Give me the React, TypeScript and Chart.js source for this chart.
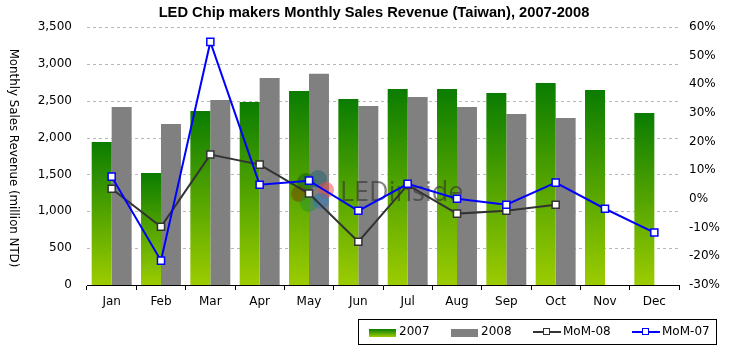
import React, { useEffect, useRef } from 'react';
import { Chart, registerables } from 'chart.js';

Chart.register(...registerables);

const months = ['Jan', 'Feb', 'Mar', 'Apr', 'May', 'Jun', 'Jul', 'Aug', 'Sep', 'Oct', 'Nov', 'Dec'];
const sales2007 = [1940, 1520, 2360, 2483, 2632, 2523, 2659, 2659, 2605, 2740, 2645, 2333];
const sales2008 = [2415, 2184, 2510, 2808, 2866, 2428, 2550, 2415, 2320, 2265, null, null];
const mom08 = [3.6, -9.7, 15.5, 12.0, 1.9, -14.9, 4.9, -5.1, -4.1, -2.0, null, null];
const mom07 = [7.8, -21.5, 54.8, 5.0, 6.4, -4.1, 5.3, 0.1, -2.0, 5.7, -3.4, -11.7];
const leftTicks = { min: 0, max: 3500, step: 500 };
const rightTicks = { min: -30, max: 60, step: 10 };

const TITLE = 'LED Chip makers Monthly Sales Revenue (Taiwan), 2007-2008';
const Y_TITLE = 'Monthly Sales Revenue (million NTD)';
const FONT = '"DejaVu Sans", sans-serif';

const GREEN_TOP = '#0a7c00';
const GREEN_BOTTOM = '#9ccc00';

const decorPlugin = {
  id: 'decor',
  beforeDraw(chart: any) {
    const c = chart.ctx;
    c.save();
    c.fillStyle = '#ffffff';
    c.fillRect(0, 0, chart.width, chart.height);
    c.fillStyle = '#000';
    c.font = 'bold 14.7px "Liberation Sans", Arial, sans-serif';
    c.textAlign = 'center';
    c.textBaseline = 'middle';
    c.fillText(TITLE, 374, 13);
    c.translate(13, 158);
    c.rotate(Math.PI / 2);
    c.font = '11.8px ' + FONT;
    c.fillText(Y_TITLE, 0, 0);
    c.restore();
  },
  beforeDatasetsDraw(chart: any) {
    const c = chart.ctx;
    const y = chart.scales.y;
    const area = chart.chartArea;
    c.save();
    c.strokeStyle = '#b8b8b8';
    c.lineWidth = 1;
    c.setLineDash([3, 3]);
    for (const t of y.ticks) {
      if (t.value === 0) continue;
      const py = Math.round(y.getPixelForValue(t.value)) + 0.5;
      c.beginPath();
      c.moveTo(area.left, py);
      c.lineTo(area.right, py);
      c.stroke();
    }
    c.restore();
  },
  afterDatasetDraw(chart: any, args: any) {
    if (args.index !== 0) return;
    const c = chart.ctx;
    c.save();
    const circles = [
      [306, 182, 9, 'rgba(20,90,20,0.5)'],
      [318, 179, 9, 'rgba(30,100,110,0.5)'],
      [326, 190, 8, 'rgba(235,70,70,0.5)'],
      [299, 194, 8, 'rgba(120,70,0,0.55)'],
      [309, 203, 9, 'rgba(40,150,40,0.5)'],
      [321, 201, 8, 'rgba(40,120,190,0.5)'],
    ];
    for (const [x, y, r, col] of circles as any) {
      c.beginPath();
      c.arc(x, y, r, 0, Math.PI * 2);
      c.fillStyle = col;
      c.fill();
    }
    c.font = '27px "Open Sans", sans-serif';
    c.fillStyle = 'rgba(50,50,50,0.6)';
    c.textAlign = 'left';
    c.textBaseline = 'middle';
    c.fillText('LEDinside', 340, 193);
    c.restore();
  },
};

function barGradient(context: any) {
  const chart = context.chart;
  const scales = chart.scales;
  if (!scales || !scales.y || context.type !== 'data' || context.raw == null) return GREEN_TOP;
  const top = scales.y.getPixelForValue(context.raw);
  const base = scales.y.getPixelForValue(0);
  if (!isFinite(top) || !isFinite(base) || top === base) return GREEN_TOP;
  const g = chart.ctx.createLinearGradient(0, top, 0, base);
  g.addColorStop(0, GREEN_TOP);
  g.addColorStop(1, GREEN_BOTTOM);
  return g;
}

function Legend() {
  const txt: React.CSSProperties = {
    position: 'absolute',
    top: 318,
    fontFamily: FONT,
    fontSize: 12,
    lineHeight: '27px',
    color: '#000',
  };
  const line = (left: number, color: string, width: number) => (
    <div style={{ position: 'absolute', left, top: 332, width: 28, height: 0 }}>
      <div style={{ position: 'absolute', left: 0, top: -1, width: 28, height: width, background: color }} />
      <div
        style={{
          position: 'absolute',
          left: 10,
          top: -4,
          width: 5,
          height: 5,
          background: '#fff',
          border: '1px solid ' + color,
        }}
      />
    </div>
  );
  return (
    <>
      <div
        style={{
          position: 'absolute',
          left: 358,
          top: 319,
          width: 359,
          height: 26,
          border: '1px solid #000',
          boxSizing: 'border-box',
        }}
      />
      <div
        style={{
          position: 'absolute',
          left: 369,
          top: 329,
          width: 27,
          height: 8,
          background: `linear-gradient(${GREEN_TOP}, ${GREEN_BOTTOM})`,
        }}
      />
      <span style={{ ...txt, left: 399 }}>2007</span>
      <div style={{ position: 'absolute', left: 451, top: 329, width: 27, height: 8, background: '#808080' }} />
      <span style={{ ...txt, left: 481 }}>2008</span>
      {line(533, '#333333', 2)}
      <span style={{ ...txt, left: 563 }}>MoM-08</span>
      {line(632, '#0000ff', 2)}
      <span style={{ ...txt, left: 662 }}>MoM-07</span>
    </>
  );
}

export default function App() {
  const canvasRef = useRef<HTMLCanvasElement>(null);

  useEffect(() => {
    if (!canvasRef.current) return;
    const chart = new Chart(canvasRef.current, {
      type: 'bar',
      data: {
        labels: months,
        datasets: [
          {
            type: 'bar',
            label: '2007',
            data: sales2007,
            backgroundColor: barGradient,
            yAxisID: 'y',
            order: 2,
            categoryPercentage: 0.81,
            barPercentage: 1,
          },
          {
            type: 'bar',
            label: '2008',
            data: sales2008,
            backgroundColor: '#808080',
            yAxisID: 'y',
            order: 2,
            categoryPercentage: 0.81,
            barPercentage: 1,
          },
          {
            type: 'line',
            label: 'MoM-08',
            data: mom08,
            yAxisID: 'y1',
            borderColor: '#333333',
            borderWidth: 2,
            tension: 0,
            pointStyle: 'rect',
            pointRadius: 5,
            pointBorderWidth: 1.5,
            pointBackgroundColor: '#ffffff',
            pointBorderColor: '#333333',
            order: 1,
            spanGaps: false,
            clip: false,
          },
          {
            type: 'line',
            label: 'MoM-07',
            data: mom07,
            yAxisID: 'y1',
            borderColor: '#0000ff',
            borderWidth: 2,
            tension: 0,
            pointStyle: 'rect',
            pointRadius: 5,
            pointBorderWidth: 1.5,
            pointBackgroundColor: '#ffffff',
            pointBorderColor: '#0000ff',
            order: 0,
            clip: false,
          },
        ] as any,
      },
      options: {
        animation: false,
        responsive: false,
        maintainAspectRatio: false,
        layout: { padding: { top: 27, left: 0, right: 0, bottom: 0 } },
        plugins: {
          legend: { display: false },
          title: { display: false },
          tooltip: { enabled: false },
        },
        scales: {
          x: {
            offset: true,
            grid: {
              offset: true,
              drawOnChartArea: false,
              drawTicks: true,
              tickLength: 5,
              color: '#000',
            },
            border: { display: true, color: '#000', width: 1 },
            ticks: { color: '#000', font: { family: FONT, size: 12 }, padding: 5, maxRotation: 0 },
            afterFit: (s: any) => {
              s.height = 67;
            },
          },
          y: {
            position: 'left',
            min: leftTicks.min,
            max: leftTicks.max,
            ticks: {
              stepSize: leftTicks.step,
              color: '#000',
              font: { family: FONT, size: 12 },
              padding: 15,
              callback: (v: any) => Number(v).toLocaleString('en-US'),
            },
            grid: { display: false, drawTicks: false, tickLength: 0 },
            border: { display: false },
            afterFit: (s: any) => {
              s.width = 87;
            },
          },
          y1: {
            position: 'right',
            min: rightTicks.min,
            max: rightTicks.max,
            ticks: {
              stepSize: rightTicks.step,
              color: '#000',
              font: { family: FONT, size: 12 },
              padding: 10,
              callback: (v: any) => v + '%',
            },
            grid: { display: false, drawTicks: false, tickLength: 0 },
            border: { display: false },
            afterFit: (s: any) => {
              s.width = 50;
            },
          },
        },
      } as any,
      plugins: [decorPlugin],
    });
    return () => chart.destroy();
  }, []);

  return (
    <div style={{ position: 'absolute', left: 0, top: 0, width: 729, height: 352, background: '#fff' }}>
      <canvas ref={canvasRef} width={729} height={352} style={{ display: 'block', width: 729, height: 352 }} />
      <Legend />
    </div>
  );
}
